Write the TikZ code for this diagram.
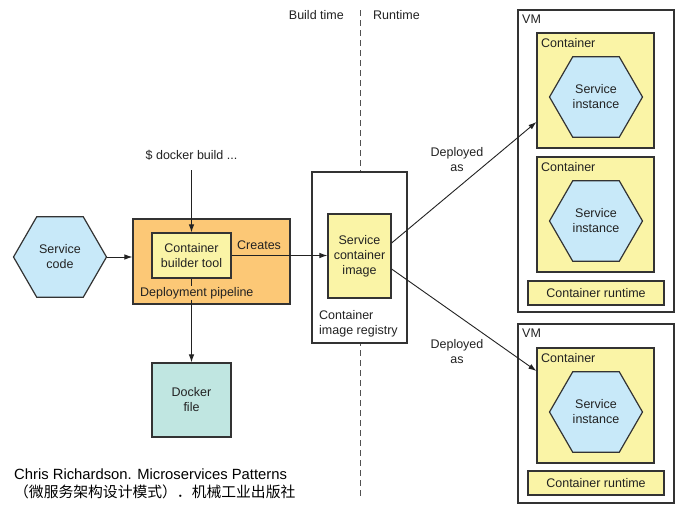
\documentclass[tikz,border=0pt]{standalone}
\usepackage{fontspec}
\setmainfont{Liberation Sans}
\newfontfamily\cjkfont{Noto Sans CJK SC}
\usetikzlibrary{shapes.geometric,arrows.meta}
\definecolor{hexblue}{HTML}{C8E9F9}
\definecolor{pipeorange}{HTML}{FCC876}
\definecolor{boxyellow}{HTML}{FAF4A6}
\definecolor{dockerteal}{HTML}{C0E6E1}
\definecolor{edge}{HTML}{333333}
\definecolor{txt}{HTML}{222222}
\tikzset{
  every node/.style={font=\fontsize{12.5}{15}\selectfont, text=txt},
  box/.style={draw=edge, line width=1.2pt, inner sep=0pt, align=center},
  hexa/.style={regular polygon, regular polygon sides=6, minimum size=93pt, draw=edge, line width=1.2pt, fill=hexblue, inner sep=0pt, align=center},
  conn/.style={draw=txt, line width=0.9pt, -{Latex[length=8pt,width=5.5pt]}},
  lbl/.style={inner sep=1pt, align=center},
}
\begin{document}
\begin{tikzpicture}[x=1pt,y=-1pt]
\useasboundingbox (0,0) rectangle (689,517);
\fill[white] (0,0) rectangle (689,517);
% divider
\node[lbl, anchor=east] (bt) at (345,15) {Build time};
\node[lbl, anchor=west] (rt) at (372,15) {Runtime};
\coordinate (dtop) at (360,10);
\coordinate (dbot) at (360,496);
\draw[edge!85, line width=1pt, dash pattern=on 6pt off 4pt] (dtop) -- (dbot);
% left part
\node[hexa] (sc) at (60,257) {Service\\code};
\node[box, fill=pipeorange, minimum width=157pt, minimum height=85pt] (pipe) at (211.5,261.5) {};
\node[box, fill=boxyellow, minimum width=79pt, minimum height=45pt] (tool) at (191.5,255.5) {Container\\builder tool};
\node[lbl, anchor=west] (cr) at (236,245) {Creates};
\node[box, fill=dockerteal, minimum width=79pt, minimum height=74pt] (df) at (191.5,400) {Docker\\file};
\node[lbl] (dbt) at (191.5,155) {\$ docker build ...};
\coordinate (dbs) at (191.5,170);
\draw[conn] (dbs) -- (tool.north);
\draw[conn] (sc.east) -- (sc.east -| pipe.west);
\draw[conn] (tool.south) -- (df.north);
\node[lbl, anchor=west, fill=pipeorange] (dpl) at (139,293) {Deployment pipeline};
% registry
\node[box, fill=white, minimum width=95pt, minimum height=171pt] (reg) at (359.5,257.5) {};
\node[box, fill=boxyellow, minimum width=63pt, minimum height=84pt] (img) at (359.5,256) {Service\\container\\image};
\node[lbl, anchor=west, align=left] (regl) at (318,323.5) {Container\\image registry};
\draw[conn] (tool.east) -- (tool.east -| img.west);
% VM 1
\node[box, fill=white, minimum width=156pt, minimum height=302pt] (vm1) at (596,161) {};
\node[lbl, anchor=north west] (vm1l) at (521,14) {VM};
\node[box, fill=boxyellow, minimum width=117pt, minimum height=115pt] (c1) at (595.5,90.5) {};
\node[lbl, anchor=north west] (c1l) at (540,37) {Container};
\node[hexa] (h1) at (596,97) {Service\\instance};
\node[box, fill=boxyellow, minimum width=117pt, minimum height=115pt] (c2) at (595.5,214.5) {};
\node[lbl, anchor=north west] (c2l) at (540,161) {Container};
\node[hexa] (h2) at (596,221) {Service\\instance};
\node[box, fill=boxyellow, minimum width=136pt, minimum height=24pt] (cr1) at (596,293) {Container runtime};
% VM 2
\node[box, fill=white, minimum width=156pt, minimum height=179pt] (vm2) at (596,413.5) {};
\node[lbl, anchor=north west] (vm2l) at (521,328) {VM};
\node[box, fill=boxyellow, minimum width=117pt, minimum height=115pt] (c3) at (595.5,405.5) {};
\node[lbl, anchor=north west] (c3l) at (540,352) {Container};
\node[hexa] (h3) at (596,412) {Service\\instance};
\node[box, fill=boxyellow, minimum width=136pt, minimum height=24pt] (cr2) at (596,483) {Container runtime};
% deploy arrows
\draw[conn] (img.east |- 0,243) -- (c1.west |- 0,122);
\draw[conn] (img.east |- 0,269) -- (c3.west |- 0,371);
\node[lbl] (dep1) at (457,160) {Deployed\\as};
\node[lbl] (dep2) at (457,352) {Deployed\\as};
% caption
\node[anchor=north west, inner sep=0pt, align=left, text=black, font=\fontsize{14.8}{17.5}\selectfont] (cap) at (14,469) {Chris Richardson. Microservices Patterns\\{\cjkfont （微服务架构设计模式）．机械工业出版社}};
\end{tikzpicture}
\end{document}
